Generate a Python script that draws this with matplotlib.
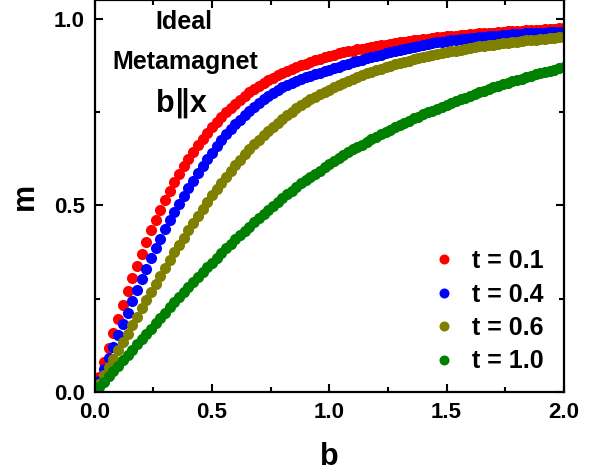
import numpy as np
import matplotlib
matplotlib.use("Agg")
import matplotlib.pyplot as plt
from matplotlib.ticker import MultipleLocator, FormatStrFormatter

plt.rcParams['font.family'] = ['Liberation Sans', 'DejaVu Sans']
plt.rcParams['font.weight'] = 'bold'

# reduced field b, sampled every 0.02 from 0 to 2
b_field = np.round(np.arange(101) * 0.02, 2)

m_t01 = [
    0.000, 0.040, 0.080, 0.119, 0.158, 0.196, 0.233, 0.270, 0.305, 0.339,
    0.371, 0.403, 0.433, 0.461, 0.489, 0.515, 0.539, 0.562, 0.584, 0.605,
    0.625, 0.643, 0.661, 0.677, 0.693, 0.709, 0.723, 0.737, 0.749, 0.761,
    0.773, 0.783, 0.794, 0.803, 0.813, 0.821, 0.828, 0.836, 0.842, 0.849,
    0.855, 0.861, 0.866, 0.871, 0.875, 0.880, 0.885, 0.889, 0.893, 0.897,
    0.900, 0.904, 0.907, 0.910, 0.913, 0.915, 0.918, 0.920, 0.922, 0.925,
    0.927, 0.929, 0.931, 0.933, 0.935, 0.937, 0.939, 0.941, 0.943, 0.944,
    0.946, 0.947, 0.949, 0.950, 0.951, 0.953, 0.954, 0.955, 0.956, 0.957,
    0.958, 0.960, 0.961, 0.962, 0.962, 0.963, 0.964, 0.965, 0.966, 0.967,
    0.967, 0.968, 0.969, 0.970, 0.970, 0.971, 0.972, 0.972, 0.973, 0.974,
    0.974,
]

m_t04 = [
    0.000, 0.030, 0.061, 0.091, 0.122, 0.152, 0.182, 0.213, 0.243, 0.273,
    0.302, 0.330, 0.358, 0.385, 0.411, 0.436, 0.460, 0.482, 0.505, 0.526,
    0.546, 0.566, 0.586, 0.605, 0.624, 0.641, 0.659, 0.675, 0.691, 0.705,
    0.718, 0.730, 0.743, 0.754, 0.765, 0.774, 0.785, 0.793, 0.802, 0.809,
    0.816, 0.822, 0.828, 0.833, 0.838, 0.843, 0.847, 0.852, 0.856, 0.859,
    0.863, 0.867, 0.871, 0.875, 0.878, 0.883, 0.886, 0.890, 0.894, 0.897,
    0.901, 0.904, 0.908, 0.910, 0.913, 0.917, 0.919, 0.923, 0.925, 0.928,
    0.931, 0.933, 0.935, 0.937, 0.938, 0.940, 0.942, 0.944, 0.945, 0.947,
    0.948, 0.949, 0.951, 0.952, 0.953, 0.954, 0.955, 0.956, 0.957, 0.958,
    0.959, 0.960, 0.961, 0.961, 0.962, 0.963, 0.963, 0.964, 0.964, 0.965,
    0.965,
]

m_t06 = [
    0.000, 0.022, 0.045, 0.067, 0.090, 0.112, 0.134, 0.157, 0.179, 0.201,
    0.224, 0.246, 0.268, 0.289, 0.311, 0.332, 0.353, 0.374, 0.394, 0.414,
    0.434, 0.454, 0.473, 0.491, 0.510, 0.527, 0.544, 0.561, 0.577, 0.593,
    0.608, 0.623, 0.637, 0.650, 0.664, 0.676, 0.688, 0.700, 0.711, 0.722,
    0.732, 0.742, 0.751, 0.760, 0.768, 0.776, 0.784, 0.791, 0.798, 0.804,
    0.810, 0.816, 0.822, 0.828, 0.834, 0.839, 0.844, 0.849, 0.854, 0.858,
    0.862, 0.866, 0.870, 0.874, 0.878, 0.882, 0.885, 0.888, 0.891, 0.894,
    0.897, 0.900, 0.903, 0.906, 0.908, 0.911, 0.913, 0.915, 0.917, 0.920,
    0.922, 0.924, 0.926, 0.927, 0.929, 0.931, 0.933, 0.934, 0.936, 0.937,
    0.939, 0.940, 0.942, 0.943, 0.944, 0.946, 0.947, 0.948, 0.949, 0.950,
    0.951,
]

m_t10 = [
    0.000, 0.014, 0.028, 0.043, 0.057, 0.071, 0.086, 0.100, 0.114, 0.128,
    0.142, 0.156, 0.170, 0.184, 0.199, 0.213, 0.227, 0.241, 0.255, 0.268,
    0.282, 0.295, 0.308, 0.321, 0.334, 0.347, 0.360, 0.372, 0.385, 0.397,
    0.409, 0.420, 0.432, 0.443, 0.455, 0.466, 0.477, 0.488, 0.499, 0.509,
    0.520, 0.530, 0.540, 0.550, 0.559, 0.568, 0.577, 0.585, 0.593, 0.602,
    0.610, 0.618, 0.627, 0.635, 0.642, 0.650, 0.656, 0.663, 0.670, 0.677,
    0.684, 0.691, 0.697, 0.703, 0.709, 0.716, 0.721, 0.727, 0.733, 0.738,
    0.744, 0.749, 0.754, 0.759, 0.764, 0.770, 0.775, 0.780, 0.784, 0.789,
    0.794, 0.798, 0.803, 0.807, 0.811, 0.816, 0.820, 0.824, 0.828, 0.832,
    0.836, 0.840, 0.844, 0.847, 0.851, 0.854, 0.858, 0.861, 0.864, 0.867,
    0.870,
]

series_labels = ['t = 0.1', 't = 0.4', 't = 0.6', 't = 1.0']
series_colors = ['#ff0000', '#0000ff', '#808000', '#008000']
series_values = [m_t01, m_t04, m_t06, m_t10]

fig = plt.figure(figsize=(6.03, 4.73), dpi=100)
ax = fig.add_axes([0.157, 0.171, 0.778, 0.828])

for vals, col, lab in zip(series_values, series_colors, series_labels):
    ax.plot(b_field, vals, linestyle='none', marker='o', markersize=8.0,
            markeredgewidth=0, color=col, label=lab)

ax.set_xlim(0, 2.0)
ax.set_ylim(0, 1.049)
ax.xaxis.set_major_locator(MultipleLocator(0.5))
ax.xaxis.set_minor_locator(MultipleLocator(0.25))
ax.yaxis.set_major_locator(MultipleLocator(0.5))
ax.yaxis.set_minor_locator(MultipleLocator(0.25))
ax.xaxis.set_major_formatter(FormatStrFormatter('%.1f'))
ax.yaxis.set_major_formatter(FormatStrFormatter('%.1f'))

ax.tick_params(which='both', direction='in', top=True, right=True, width=1.5)
ax.tick_params(which='major', length=6, pad=7, labelsize=16)
ax.tick_params(which='minor', length=3.5)
for lbl in ax.get_xticklabels() + ax.get_yticklabels():
    lbl.set_fontweight('bold')
for sp in ax.spines.values():
    sp.set_linewidth(1.6)

ax.set_xlabel('b', fontsize=22, fontweight='bold', labelpad=14)
ax.set_ylabel('m', fontsize=22, fontweight='bold', labelpad=10)

fig.text(184 / 603, 1 - 22 / 473, 'Ideal', ha='center', va='center',
         fontsize=18, fontweight='bold')
fig.text(185 / 603, 1 - 62 / 473, 'Metamagnet', ha='center', va='center',
         fontsize=18, fontweight='bold')
fig.text(181 / 603, 1 - 103 / 473, 'b\u2225x', ha='center', va='center',
         fontsize=22, fontweight='bold')

leg = ax.legend(loc='upper left', bbox_to_anchor=(431 / 603, 1 - 249 / 473),
                bbox_transform=fig.transFigure, frameon=False, borderpad=0,
                borderaxespad=0, handlelength=1.0, handletextpad=0.66,
                labelspacing=0.38, markerscale=0.9,
                prop={'size': 18, 'weight': 'bold'})

fig.savefig('out.png', dpi=100)
